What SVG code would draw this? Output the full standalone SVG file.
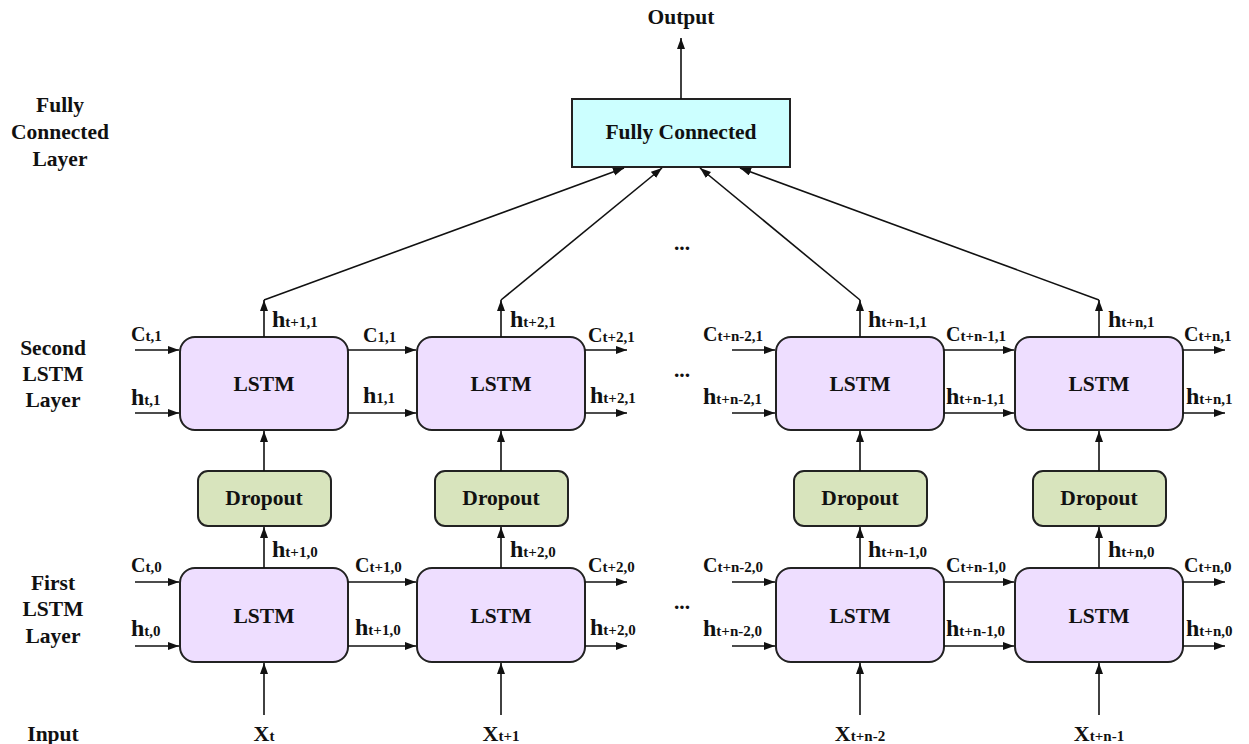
<svg xmlns="http://www.w3.org/2000/svg" width="1249" height="744" viewBox="0 0 1249 744" font-family="'Liberation Serif', Tinos, 'Times New Roman', 'DejaVu Serif', serif">
<defs>
<marker id="ah" markerUnits="userSpaceOnUse" markerWidth="12" markerHeight="10" refX="11" refY="4" orient="auto"><path d="M0,0 L11,4 L0,8 Z" fill="#111"/></marker>
<style>
text{font-weight:bold;fill:#111}
.lbl{font-size:21.5px;text-anchor:middle}
.lstm{fill:#eedeff;stroke:#222;stroke-width:2}
.drop{fill:#d8e4bd;stroke:#222;stroke-width:2}
.fc{fill:#ccffff;stroke:#222;stroke-width:2}
.c{stroke:#111;stroke-width:1.6;fill:none;marker-end:url(#ah)}
.bC{font-size:20px}
.bH{font-size:24px}
.bX{font-size:22px}
.s{font-size:15px}
</style>
</defs>
<rect width="1249" height="744" fill="#fff"/>

<g id="layer-labels">
<text class="lbl" x="60" y="112">Fully</text>
<text class="lbl" x="60" y="139">Connected</text>
<text class="lbl" x="60" y="166">Layer</text>
<text class="lbl" x="53" y="355">Second</text>
<text class="lbl" x="53" y="381">LSTM</text>
<text class="lbl" x="53" y="407">Layer</text>
<text class="lbl" x="53" y="590">First</text>
<text class="lbl" x="53" y="616">LSTM</text>
<text class="lbl" x="53" y="643">Layer</text>
<text class="lbl" x="53" y="741">Input</text>
</g>

<g id="output"><text class="lbl" x="681" y="24">Output</text></g>

<g id="fc"><rect class="fc" x="572" y="99" width="218" height="68"/><text class="lbl" x="681" y="139">Fully Connected</text></g>

<g id="lstm2-1"><rect class="lstm" x="180" y="337" width="168" height="93" rx="15"/><text class="lbl" x="264" y="391">LSTM</text></g>
<g id="lstm2-2"><rect class="lstm" x="417" y="337" width="168" height="93" rx="15"/><text class="lbl" x="501" y="391">LSTM</text></g>
<g id="lstm2-3"><rect class="lstm" x="776" y="337" width="168" height="93" rx="15"/><text class="lbl" x="860" y="391">LSTM</text></g>
<g id="lstm2-4"><rect class="lstm" x="1015" y="337" width="168" height="93" rx="15"/><text class="lbl" x="1099" y="391">LSTM</text></g>

<g id="drop-1"><rect class="drop" x="198" y="471" width="133" height="55" rx="10"/><text class="lbl" x="264" y="505">Dropout</text></g>
<g id="drop-2"><rect class="drop" x="435" y="471" width="133" height="55" rx="10"/><text class="lbl" x="501" y="505">Dropout</text></g>
<g id="drop-3"><rect class="drop" x="794" y="471" width="133" height="55" rx="10"/><text class="lbl" x="860" y="505">Dropout</text></g>
<g id="drop-4"><rect class="drop" x="1033" y="471" width="133" height="55" rx="10"/><text class="lbl" x="1099" y="505">Dropout</text></g>

<g id="lstm1-1"><rect class="lstm" x="180" y="568" width="168" height="94" rx="15"/><text class="lbl" x="264" y="623">LSTM</text></g>
<g id="lstm1-2"><rect class="lstm" x="417" y="568" width="168" height="94" rx="15"/><text class="lbl" x="501" y="623">LSTM</text></g>
<g id="lstm1-3"><rect class="lstm" x="776" y="568" width="168" height="94" rx="15"/><text class="lbl" x="860" y="623">LSTM</text></g>
<g id="lstm1-4"><rect class="lstm" x="1015" y="568" width="168" height="94" rx="15"/><text class="lbl" x="1099" y="623">LSTM</text></g>

<g id="connectors">
<line class="c" x1="681" y1="99" x2="681" y2="38"/>
<line class="c" x1="264" y1="300" x2="624" y2="168"/>
<line class="c" x1="501" y1="300" x2="662" y2="168"/>
<line class="c" x1="860" y1="300" x2="700" y2="168"/>
<line class="c" x1="1099" y1="300" x2="740" y2="168"/>
<line class="c" x1="264" y1="337" x2="264" y2="300"/>
<line class="c" x1="501" y1="337" x2="501" y2="300"/>
<line class="c" x1="860" y1="337" x2="860" y2="300"/>
<line class="c" x1="1099" y1="337" x2="1099" y2="300"/>
<line class="c" x1="264" y1="471" x2="264" y2="431"/>
<line class="c" x1="501" y1="471" x2="501" y2="431"/>
<line class="c" x1="860" y1="471" x2="860" y2="431"/>
<line class="c" x1="1099" y1="471" x2="1099" y2="431"/>
<line class="c" x1="264" y1="568" x2="264" y2="527"/>
<line class="c" x1="501" y1="568" x2="501" y2="527"/>
<line class="c" x1="860" y1="568" x2="860" y2="527"/>
<line class="c" x1="1099" y1="568" x2="1099" y2="527"/>
<line class="c" x1="264" y1="715" x2="264" y2="663"/>
<line class="c" x1="501" y1="715" x2="501" y2="663"/>
<line class="c" x1="860" y1="715" x2="860" y2="663"/>
<line class="c" x1="1099" y1="715" x2="1099" y2="663"/>
<line class="c" x1="135" y1="350" x2="179" y2="350"/>
<line class="c" x1="135" y1="413" x2="179" y2="413"/>
<line class="c" x1="348" y1="350" x2="416" y2="350"/>
<line class="c" x1="348" y1="413" x2="416" y2="413"/>
<line class="c" x1="585" y1="350" x2="627" y2="350"/>
<line class="c" x1="585" y1="413" x2="627" y2="413"/>
<line class="c" x1="732" y1="350" x2="775" y2="350"/>
<line class="c" x1="732" y1="413" x2="775" y2="413"/>
<line class="c" x1="944" y1="350" x2="1014" y2="350"/>
<line class="c" x1="944" y1="413" x2="1014" y2="413"/>
<line class="c" x1="1183" y1="350" x2="1225" y2="350"/>
<line class="c" x1="1183" y1="413" x2="1225" y2="413"/>
<line class="c" x1="135" y1="582" x2="179" y2="582"/>
<line class="c" x1="135" y1="646" x2="179" y2="646"/>
<line class="c" x1="348" y1="582" x2="416" y2="582"/>
<line class="c" x1="348" y1="646" x2="416" y2="646"/>
<line class="c" x1="585" y1="582" x2="627" y2="582"/>
<line class="c" x1="585" y1="646" x2="627" y2="646"/>
<line class="c" x1="732" y1="582" x2="775" y2="582"/>
<line class="c" x1="732" y1="646" x2="775" y2="646"/>
<line class="c" x1="944" y1="582" x2="1014" y2="582"/>
<line class="c" x1="944" y1="646" x2="1014" y2="646"/>
<line class="c" x1="1183" y1="582" x2="1225" y2="582"/>
<line class="c" x1="1183" y1="646" x2="1225" y2="646"/>
</g>

<g id="dots">
<text class="lbl" x="682" y="250">...</text>
<text class="lbl" x="682" y="377">...</text>
<text class="lbl" x="682" y="609">...</text>
</g>

<g id="labels-layer2">
<text x="131" y="341"><tspan class="bC">C</tspan><tspan class="s">t,1</tspan></text>
<text x="131" y="405"><tspan class="bH">h</tspan><tspan class="s">t,1</tspan></text>
<text x="272" y="327"><tspan class="bH">h</tspan><tspan class="s">t+1,1</tspan></text>
<text x="363" y="342"><tspan class="bC">C</tspan><tspan class="s">1,1</tspan></text>
<text x="363" y="403"><tspan class="bH">h</tspan><tspan class="s">1,1</tspan></text>
<text x="510" y="327"><tspan class="bH">h</tspan><tspan class="s">t+2,1</tspan></text>
<text x="588" y="342"><tspan class="bC">C</tspan><tspan class="s">t+2,1</tspan></text>
<text x="590" y="403"><tspan class="bH">h</tspan><tspan class="s">t+2,1</tspan></text>
<text x="703" y="341"><tspan class="bC">C</tspan><tspan class="s">t+n-2,1</tspan></text>
<text x="703" y="404"><tspan class="bH">h</tspan><tspan class="s">t+n-2,1</tspan></text>
<text x="868" y="327"><tspan class="bH">h</tspan><tspan class="s">t+n-1,1</tspan></text>
<text x="946" y="341"><tspan class="bC">C</tspan><tspan class="s">t+n-1,1</tspan></text>
<text x="946" y="404"><tspan class="bH">h</tspan><tspan class="s">t+n-1,1</tspan></text>
<text x="1108" y="327"><tspan class="bH">h</tspan><tspan class="s">t+n,1</tspan></text>
<text x="1184" y="341"><tspan class="bC">C</tspan><tspan class="s">t+n,1</tspan></text>
<text x="1186" y="404"><tspan class="bH">h</tspan><tspan class="s">t+n,1</tspan></text>
</g>

<g id="labels-layer1">
<text x="131" y="572"><tspan class="bC">C</tspan><tspan class="s">t,0</tspan></text>
<text x="131" y="636"><tspan class="bH">h</tspan><tspan class="s">t,0</tspan></text>
<text x="272" y="557"><tspan class="bH">h</tspan><tspan class="s">t+1,0</tspan></text>
<text x="355" y="572"><tspan class="bC">C</tspan><tspan class="s">t+1,0</tspan></text>
<text x="355" y="635"><tspan class="bH">h</tspan><tspan class="s">t+1,0</tspan></text>
<text x="510" y="557"><tspan class="bH">h</tspan><tspan class="s">t+2,0</tspan></text>
<text x="588" y="572"><tspan class="bC">C</tspan><tspan class="s">t+2,0</tspan></text>
<text x="590" y="635"><tspan class="bH">h</tspan><tspan class="s">t+2,0</tspan></text>
<text x="703" y="572"><tspan class="bC">C</tspan><tspan class="s">t+n-2,0</tspan></text>
<text x="703" y="636"><tspan class="bH">h</tspan><tspan class="s">t+n-2,0</tspan></text>
<text x="868" y="557"><tspan class="bH">h</tspan><tspan class="s">t+n-1,0</tspan></text>
<text x="946" y="572"><tspan class="bC">C</tspan><tspan class="s">t+n-1,0</tspan></text>
<text x="946" y="636"><tspan class="bH">h</tspan><tspan class="s">t+n-1,0</tspan></text>
<text x="1108" y="557"><tspan class="bH">h</tspan><tspan class="s">t+n,0</tspan></text>
<text x="1184" y="572"><tspan class="bC">C</tspan><tspan class="s">t+n,0</tspan></text>
<text x="1186" y="636"><tspan class="bH">h</tspan><tspan class="s">t+n,0</tspan></text>
</g>

<g id="inputs">
<text x="264" y="741" text-anchor="middle"><tspan class="bX">X</tspan><tspan class="s">t</tspan></text>
<text x="501" y="741" text-anchor="middle"><tspan class="bX">X</tspan><tspan class="s">t+1</tspan></text>
<text x="860" y="741" text-anchor="middle"><tspan class="bX">X</tspan><tspan class="s">t+n-2</tspan></text>
<text x="1099" y="741" text-anchor="middle"><tspan class="bX">X</tspan><tspan class="s">t+n-1</tspan></text>
</g>
</svg>
